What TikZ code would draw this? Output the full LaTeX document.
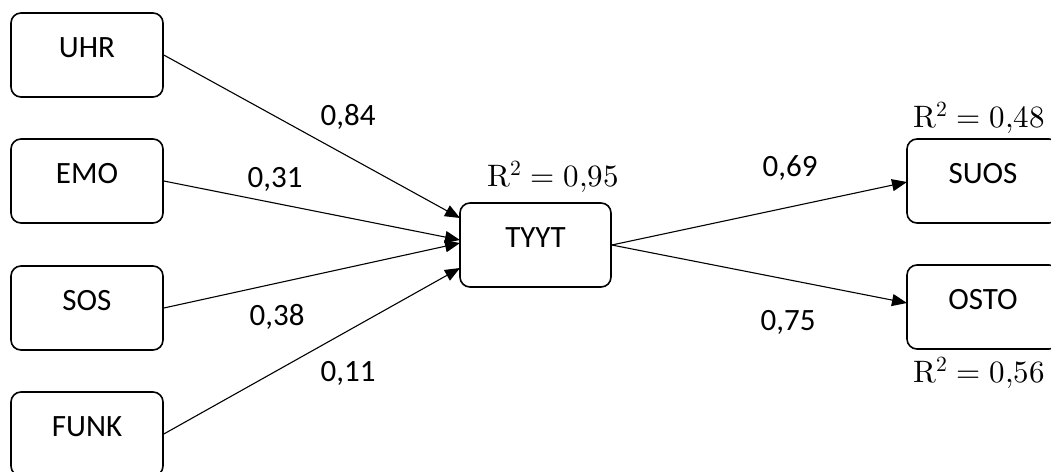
\documentclass[tikz,border=0pt]{standalone}
\usepackage{unicode-math}
\setmainfont{Carlito}
\setmathfont{Latin Modern Math}
\usetikzlibrary{arrows.meta}
\tikzset{
  box/.style={draw=black, line width=1.6pt, rounded corners=10pt, minimum width=152pt,
    inner sep=2pt, text height=42pt, text depth=38pt, font=\fontsize{31}{36}\selectfont},
  conn/.style={line width=1.1pt, -{Triangle[length=15pt,width=12pt]}},
  coef/.style={font=\fontsize{31}{36}\selectfont, inner sep=0pt},
  rsq/.style={font=\fontsize{31}{36}\selectfont, inner sep=0pt}
}
\begin{document}
\begin{tikzpicture}[x=1pt,y=-1pt]
\useasboundingbox (0,0) rectangle (1051,471);
\node[box] (uhr) at (87,55) {UHR};
\node[box] (emo) at (87,181) {EMO};
\node[box] (sos) at (87,308) {SOS};
\node[box] (funk) at (87,434) {FUNK};
\node[box, minimum width=151pt] (tyyt) at (535.5,245) {TYYT};
\node[box] (suos) at (983,181) {SUOS};
\node[box] (osto) at (983,307) {OSTO};

\coordinate (t1) at (460,218);
\coordinate (t2) at (460,240);
\coordinate (t3) at (460,243);
\coordinate (t4) at (460,268);
\coordinate (s1) at (907,182);
\coordinate (o1) at (907,303);

\draw[conn] (uhr.east) -- (t1);
\draw[conn] (emo.east) -- (t2);
\draw[conn] (sos.east) -- (t3);
\draw[conn] (funk.east) -- (t4);
\draw[conn] (tyyt.east) -- (s1);
\draw[conn] (tyyt.east) -- (o1);

\node[coef] (c1) at (348,117) {0,84};
\node[coef] (c2) at (275,179) {0,31};
\node[coef] (c3) at (277,317) {0,38};
\node[coef] (c4) at (348,373) {0,11};
\node[coef] (c5) at (790,168) {0,69};
\node[coef] (c6) at (788,322) {0,75};

\node[rsq] (r1) at (553,177) {$\symup{R}^2 = 0{,}95$};
\node[rsq] (r2) at (979,118) {$\symup{R}^2 = 0{,}48$};
\node[rsq] (r3) at (979,373) {$\symup{R}^2 = 0{,}56$};
\end{tikzpicture}
\end{document}
